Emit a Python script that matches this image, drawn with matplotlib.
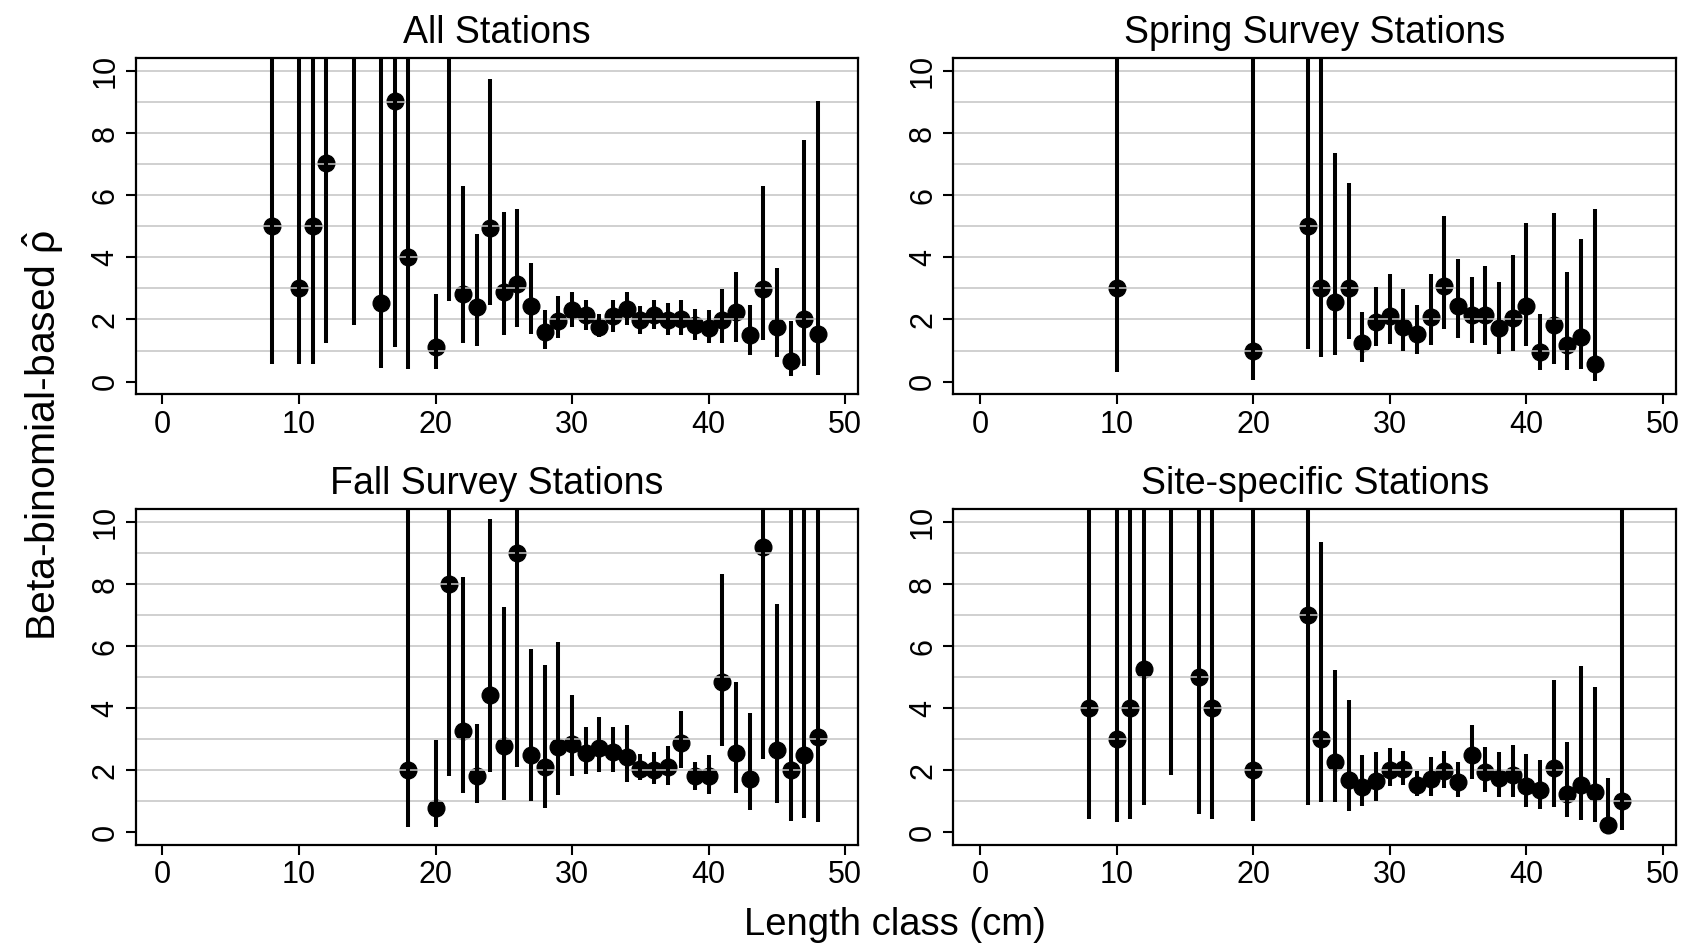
import matplotlib
matplotlib.use("Agg")
import matplotlib.pyplot as plt
import numpy as np

plt.rcParams['font.family'] = ['Liberation Sans', 'DejaVu Sans']
plt.rcParams['mathtext.fontset'] = 'custom'
plt.rcParams['mathtext.rm'] = 'Liberation Sans'
plt.rcParams['mathtext.it'] = 'Liberation Sans:italic'

# estimates and interval bounds per length class (cm)
all_x = [8, 10, 11, 12, 14, 16, 17, 18, 20, 21, 22, 23, 24, 25, 26, 27, 28, 29, 30,
         31, 32, 33, 34, 35, 36, 37, 38, 39, 40, 41, 42, 43, 44, 45, 46, 47, 48]
all_est = [5.0, 3.0, 5.0, 7.05, 12.0, 2.54, 9.04, 4.02, 1.12, 11.0, 2.81, 2.4, 4.95,
           2.89, 3.15, 2.43, 1.61, 1.95, 2.29, 2.14, 1.76, 2.11, 2.34, 1.97, 2.13,
           1.97, 2.02, 1.82, 1.73, 1.97, 2.24, 1.49, 2.99, 1.76, 0.66, 2.02, 1.54]
all_lo = [0.58, 0.58, 0.58, 1.23, 1.82, 0.44, 1.12, 0.41, 0.41, 2.61, 1.23, 1.16, 2.46,
          1.49, 1.76, 1.54, 1.06, 1.39, 1.76, 1.65, 1.43, 1.6, 1.82, 1.52, 1.68,
          1.49, 1.49, 1.35, 1.25, 1.25, 1.28, 0.84, 1.33, 0.8, 0.17, 0.5, 0.2]
all_hi = [25, 25, 25, 25, 25, 25, 25, 25, 2.81, 25, 6.3, 4.76, 9.74,
          5.46, 5.57, 3.83, 2.32, 2.75, 2.89, 2.62, 2.19, 2.62, 2.89, 2.43, 2.62,
          2.52, 2.62, 2.35, 2.32, 2.99, 3.53, 2.48, 6.3, 3.67, 1.95, 7.78, 9.04]

spring_x = [10, 20, 24, 25, 26, 27, 28, 29, 30, 31, 32, 33, 34, 35, 36, 37, 38, 39,
            40, 41, 42, 43, 44, 45]
spring_est = [3.0, 1.0, 5.0, 3.0, 2.57, 3.0, 1.23, 1.91, 2.11, 1.76, 1.54, 2.09, 3.08,
              2.43, 2.13, 2.13, 1.73, 2.05, 2.43, 0.96, 1.81, 1.19, 1.44, 0.55]
spring_lo = [0.31, 0.04, 1.05, 0.8, 0.87, 1.38, 0.63, 1.14, 1.21, 0.98, 0.9, 1.17, 1.68,
             1.41, 1.25, 1.17, 0.9, 0.98, 1.14, 0.37, 0.57, 0.37, 0.41, 0.03]
spring_hi = [25, 25, 25, 25, 7.37, 6.4, 2.24, 3.05, 3.45, 2.99, 2.48, 3.45, 5.33,
             3.96, 3.37, 3.72, 3.2, 4.06, 5.12, 2.16, 5.42, 3.53, 4.6, 5.57]

fall_x = [18, 20, 21, 22, 23, 24, 25, 26, 27, 28, 29, 30, 31, 32, 33, 34, 35, 36, 37,
          38, 39, 40, 41, 42, 43, 44, 45, 46, 47, 48]
fall_est = [2.0, 0.78, 8.0, 3.25, 1.83, 4.43, 2.79, 9.0, 2.49, 2.12, 2.76, 2.85, 2.56,
            2.72, 2.6, 2.42, 2.04, 2.01, 2.12, 2.88, 1.81, 1.81, 4.83, 2.55, 1.72,
            9.2, 2.65, 2.02, 2.49, 3.06]
fall_lo = [0.17, 0.17, 1.81, 1.26, 0.94, 1.93, 1.05, 2.1, 1.02, 0.78, 1.21, 1.81, 1.88,
           1.93, 1.93, 1.63, 1.69, 1.56, 1.53, 2.06, 1.37, 1.24, 2.79, 1.26, 0.73,
           2.36, 0.95, 0.36, 0.47, 0.33]
fall_hi = [25, 2.98, 25, 8.23, 3.49, 10.11, 7.27, 25, 5.92, 5.39, 6.12, 4.42, 3.38,
           3.72, 3.38, 3.46, 2.52, 2.6, 2.79, 3.92, 2.26, 2.49, 8.31, 4.85, 3.83,
           25, 7.35, 25, 25, 25]

site_x = [8, 10, 11, 12, 14, 16, 17, 20, 24, 25, 26, 27, 28, 29, 30, 31, 32, 33, 34,
          35, 36, 37, 38, 39, 40, 41, 42, 43, 44, 45, 46, 47]
site_est = [4.0, 3.0, 4.0, 5.26, 12.0, 5.0, 4.0, 2.0, 7.0, 3.0, 2.28, 1.7, 1.47, 1.65,
            2.02, 2.04, 1.53, 1.72, 1.99, 1.61, 2.49, 1.93, 1.74, 1.85, 1.5, 1.37,
            2.07, 1.24, 1.53, 1.29, 0.25, 1.02]
site_lo = [0.43, 0.33, 0.43, 0.88, 1.85, 0.59, 0.43, 0.36, 0.88, 0.97, 0.97, 0.67, 0.86,
           1.02, 1.48, 1.53, 1.18, 1.18, 1.43, 1.13, 1.72, 1.29, 1.13, 1.13, 0.83,
           0.76, 0.83, 0.49, 0.4, 0.33, 0.15, 0.06]
site_hi = [25, 25, 25, 25, 25, 25, 25, 25, 25, 9.35, 5.22, 4.26, 2.49, 2.6, 2.72, 2.63,
           1.96, 2.42, 2.63, 2.26, 3.46, 2.76, 2.6, 2.82, 2.52, 2.33, 4.91, 2.9,
           5.36, 4.67, 1.74, 25]

titles = ['All Stations', 'Spring Survey Stations', 'Fall Survey Stations',
          'Site-specific Stations']
panels = [(all_x, all_est, all_lo, all_hi), (spring_x, spring_est, spring_lo, spring_hi),
          (fall_x, fall_est, fall_lo, fall_hi), (site_x, site_est, site_lo, site_hi)]

W, H = 1691, 951
# axes boxes in pixels: left, top, right, bottom
boxes = [(135.7, 58.3, 858.3, 394.3), (953.3, 58.3, 1676, 394.3),
         (135.7, 509.3, 858.3, 845), (953.3, 509.3, 1676, 845)]

fig = plt.figure(figsize=(W / 100, H / 100), dpi=100)

for (l, t, r, b), title, (x, est, lo, hi) in zip(boxes, titles, panels):
    ax = fig.add_axes([l / W, 1 - b / H, (r - l) / W, (b - t) / H])
    ax.set_xlim(-1.95, 50.95)
    ax.set_ylim(-0.41, 10.41)
    for g in range(1, 11):
        ax.axhline(g, color='#c4c4c4', lw=1.1, zorder=2.5)
    ax.plot(x, est, 'o', color='black', ms=12, zorder=2)
    ax.vlines(x, lo, hi, color='black', lw=2.9, zorder=3)
    ax.set_xticks(np.arange(0, 51, 10))
    ax.set_yticks(np.arange(0, 11, 2))
    ax.tick_params(labelsize=22, length=7, width=1.5, pad=4, color='black')
    for lab in ax.get_yticklabels():
        lab.set_rotation(90)
        lab.set_va('center')
    for s in ax.spines.values():
        s.set_linewidth(1.6)
    ax.set_title(title, fontsize=27, pad=11)

fig.text(43 / W, 1 - 641 / H, r'Beta-binomial-based $\hat{\mathrm{\rho}}$', rotation=90,
         ha='center', va='bottom', fontsize=29.5)
fig.text(895 / W, 1 - 925 / H, 'Length class (cm)', ha='center', va='center', fontsize=27.5)

fig.savefig('out.png', dpi=100)
